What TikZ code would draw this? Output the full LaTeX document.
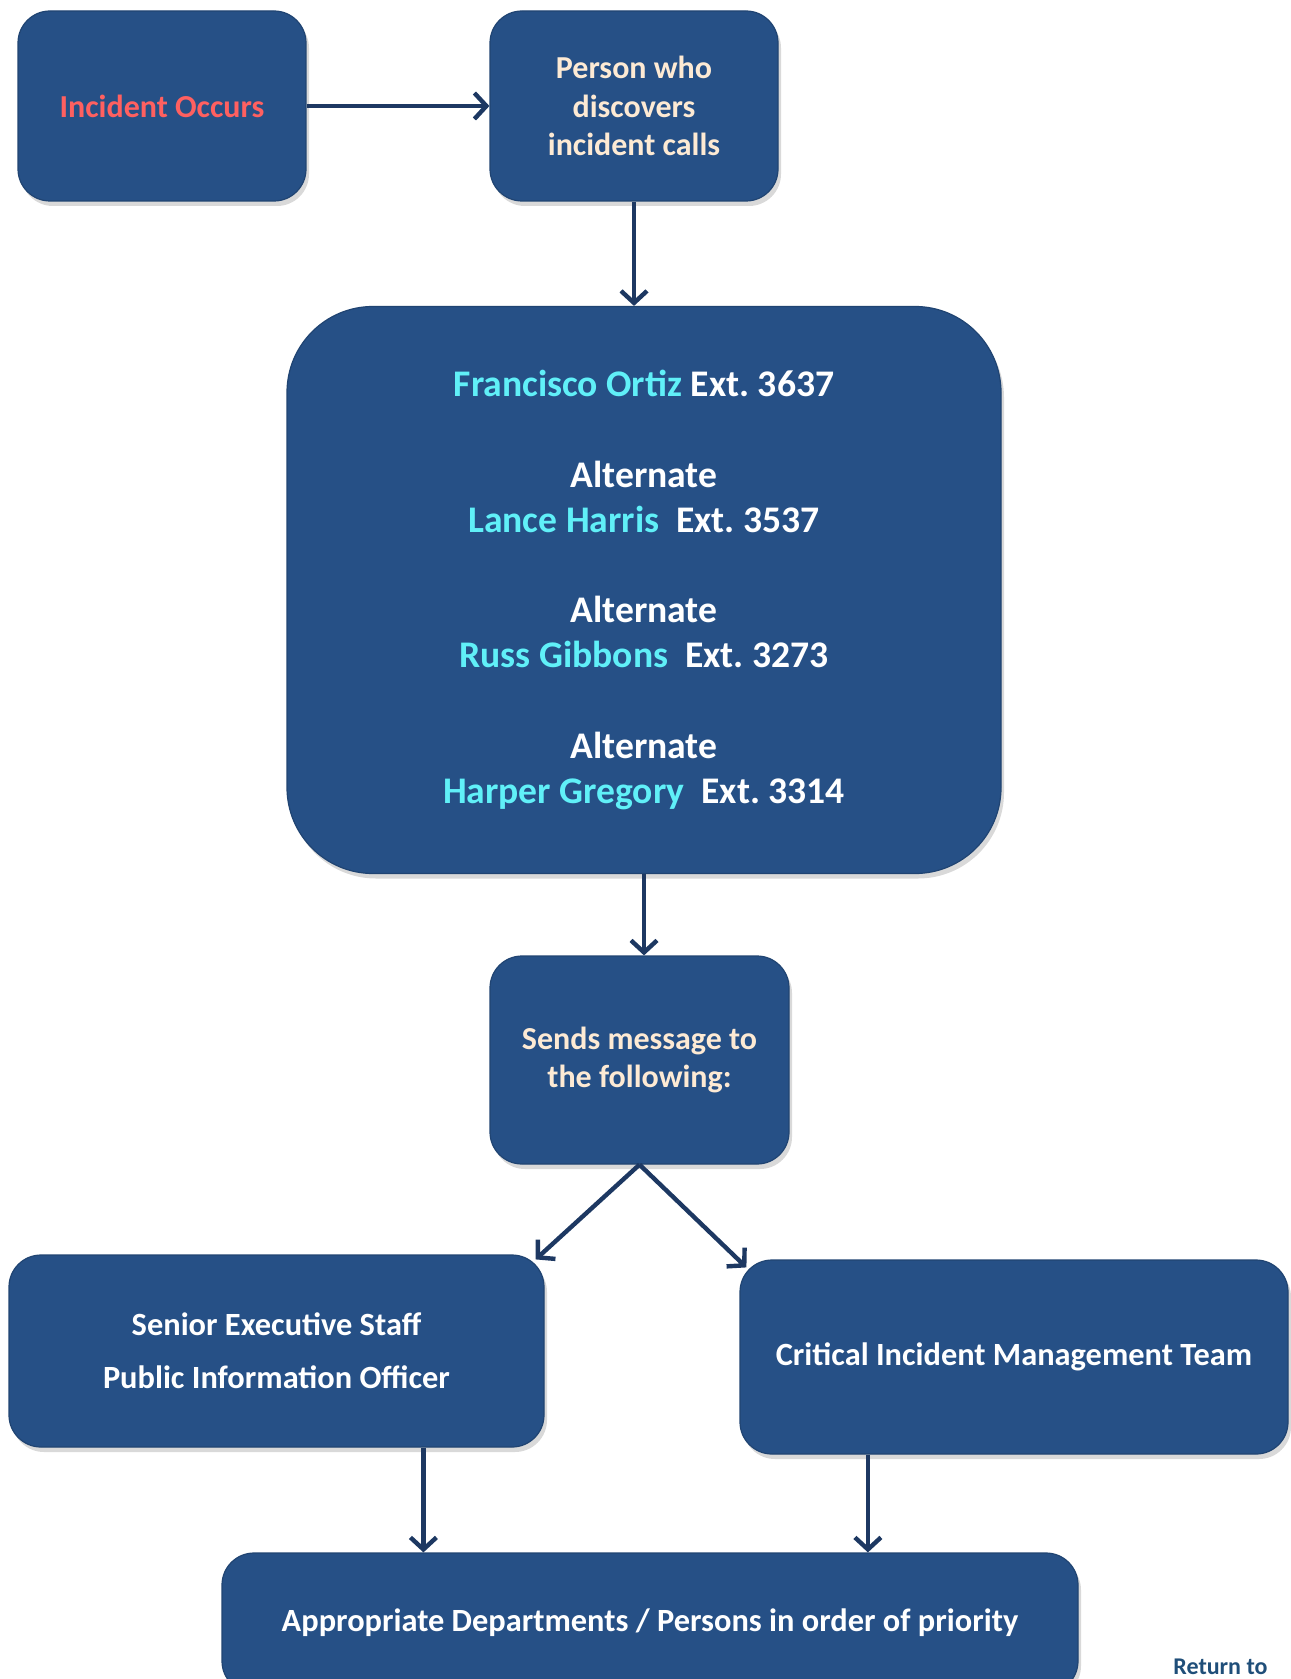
\documentclass[tikz,border=0pt]{standalone}
\usepackage{fontspec}
\setmainfont{Carlito}
\frenchspacing
\usetikzlibrary{arrows.meta,shadows,calc}
\definecolor{boxblue}{RGB}{38,80,134}
\definecolor{boxtop}{RGB}{72,122,184}
\definecolor{arrowblue}{RGB}{29,56,98}
\definecolor{incred}{RGB}{255,96,96}
\definecolor{cream}{RGB}{253,234,212}
\definecolor{namecyan}{RGB}{96,240,248}
\definecolor{returnblue}{RGB}{31,78,121}
\pgfdeclareverticalshading{boxshade}{100bp}{color(0bp)=(boxblue); color(73.2bp)=(boxblue); color(74.5bp)=(boxtop); color(75bp)=(boxblue)}

\begin{document}
\begin{tikzpicture}[x=0.5pt, y=-0.5pt,
	flowbox/.style={rounded corners=16pt, shading=boxshade, draw=boxblue!85!black, line width=0.6pt,
		drop shadow={shadow xshift=1.5pt, shadow yshift=-2.5pt, opacity=0.3}, align=center, inner sep=0pt},
	smalltext/.style={font=\bfseries\fontsize{16}{19.3}\selectfont},
	wholetext/.style={font=\bfseries\fontsize{16.2}{26.5}\selectfont},
	flowarrow/.style={draw=arrowblue, line width=2.2pt, -{Straight Barb[length=6pt,width=13pt]}}]
	\useasboundingbox (0,0) rectangle (1290,1679);
	% top row
	\node[flowbox, smalltext, minimum width=144pt, minimum height=95pt, text=incred] (incident) at (162,106) {Incident Occurs};
	\node[flowbox, smalltext, minimum width=144pt, minimum height=95pt, text=cream] (person) at (634,106) {Person who\\discovers\\incident calls};
	% on call list
	\node[flowbox, rounded corners=43pt, minimum width=357pt, minimum height=283.5pt, text=white,
		font=\bfseries\fontsize{18.8}{22.6}\selectfont] (oncall) at (644,590)
		{\textcolor{namecyan}{Francisco Ortiz} Ext. 3637\\[22.6pt]
		 Alternate\\ \textcolor{namecyan}{Lance Harris}\ \ Ext. 3537\\[22.6pt]
		 Alternate\\ \textcolor{namecyan}{Russ Gibbons}\ \ Ext. 3273\\[22.6pt]
		 Alternate\\ \textcolor{namecyan}{Harper Gregory}\ \ Ext. 3314};
	\node[flowbox, smalltext, minimum width=149.5pt, minimum height=104pt, text=cream] (sends) at (639.5,1060) {Sends message to\\the following:};
	% receivers
	\node[flowbox, wholetext, minimum width=267.5pt, minimum height=96pt, text=white] (senior) at (276.5,1351) {Senior Executive Staff\\Public Information Officer};
	\node[flowbox, wholetext, minimum width=274pt, minimum height=97pt, text=white] (critical) at (1014,1357) {Critical Incident Management Team};
	\node[flowbox, wholetext, minimum width=428pt, minimum height=70pt, text=white] (bottom) at (650,1623) {Appropriate Departments / Persons in order of priority};
	\node[anchor=base west, inner sep=0pt, text=returnblue, font=\bfseries\fontsize{12}{14}\selectfont] (returnlink) at (1173,1674) {Return to};
	% connectors
	\draw[flowarrow] (incident) -- (person);
	\draw[flowarrow] (person.south) -- (person.south |- oncall.north);
	\draw[flowarrow] (oncall.south) -- (oncall.south |- sends.north);
	\draw[flowarrow] (sends.south) -- ([xshift=-4.5pt,yshift=-2.5pt]senior.north east);
	\draw[flowarrow] (sends.south) -- ([xshift=3.5pt,yshift=-4pt]critical.north west);
	\coordinate (seniorfoot) at ($(senior.south west)!0.774!(senior.south east)$);
	\coordinate (criticalfoot) at ($(critical.south west)!0.234!(critical.south east)$);
	\draw[flowarrow] (seniorfoot) -- (seniorfoot |- bottom.north);
	\draw[flowarrow] (criticalfoot) -- (criticalfoot |- bottom.north);
\end{tikzpicture}
\end{document}
